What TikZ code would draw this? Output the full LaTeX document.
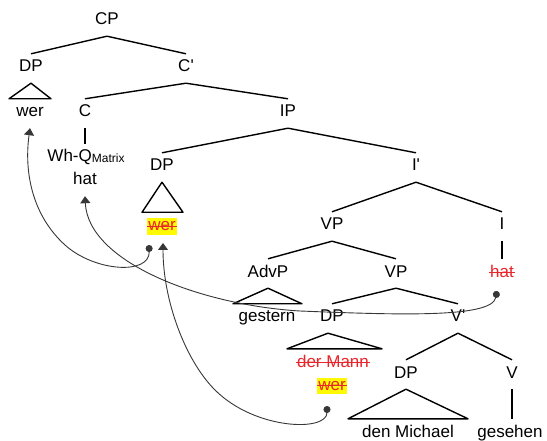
\documentclass[tikz,border=0pt]{standalone}
\usepackage{fontspec}
\setmainfont{Liberation Sans}
\usetikzlibrary{arrows.meta,calc}
\definecolor{tracered}{RGB}{232,38,44}
\definecolor{hilite}{RGB}{255,250,0}
\definecolor{linkgray}{RGB}{55,55,55}
\newcommand{\prm}{\textquotesingle}
\begin{document}
\begin{tikzpicture}[x=1pt,y=-1pt,
  lbl/.style={anchor=base, font=\fontsize{17}{17}\selectfont,
    text height=12pt, text depth=5pt, inner ysep=6pt, inner xsep=1pt},
  trace/.style={lbl, text=tracered},
  hl/.style={anchor=base, font=\fontsize{17}{17}\selectfont, fill=hilite,
    text=tracered, text height=11pt, text depth=2.5pt, inner ysep=1.5pt, inner xsep=1.5pt},
  strike/.style={tracered, line width=0.9pt},
  edge/.style={line width=1.4pt, line join=round},
  link/.style={linkgray, line width=0.9pt,
    {Circle[length=7pt,width=7pt]}-{Triangle[width=10pt,length=7pt]}}]
\useasboundingbox (0,0) rectangle (547,441);

% labels
\node[lbl] (cp)   at (107,25)  {CP};
\node[lbl] (dpA)  at (31,72)   {DP};
\node[lbl] (cbar) at (186,72)  {C\prm};
\node[lbl] (werA) at (30,117)  {wer};
\node[lbl] (c)    at (85,117)  {C};
\node[lbl] (ip)   at (288,117) {IP};
\node[lbl] (whq)  at (86,162)  {Wh-Q{\fontsize{12}{12}\selectfont\raisebox{-1pt}{Matrix}}};
\node[lbl] (hatA) at (85,185)  {hat};
\node[lbl] (dpB)  at (162,171) {DP};
\node[lbl] (ibar) at (416,171) {I\prm};
\node[hl]  (werB) at (162,231) {wer};
\node[lbl] (vpA)  at (332,230) {VP};
\node[lbl] (i)    at (502,230) {I};
\node[lbl] (advp) at (268,277) {AdvP};
\node[lbl] (vpB)  at (396,277) {VP};
\node[trace] (hatB) at (502,277) {hat};
\node[lbl] (gestern) at (267,322) {gestern};
\node[lbl] (dpC)  at (332,322) {DP};
\node[lbl] (vbar) at (458,322) {V\prm};
\node[trace] (dermann) at (333,367) {der Mann};
\node[hl]  (werC) at (332,390) {wer};
\node[lbl] (dpD)  at (406,378) {DP};
\node[lbl] (v)    at (512,378) {V};
\node[lbl] (michael) at (408,437) {den Michael};
\node[lbl] (gesehen) at (510,437) {gesehen};

% strike-through on the traces
\foreach \n in {werB,hatB,dermann,werC}
  \draw[strike] ($(\n.base west)+(0.5,-5)$) -- ($(\n.base east)+(-0.5,-5)$);

% branches
\draw[edge] (cp.south) -- (dpA.north);
\draw[edge] (cp.south) -- (cbar.north);
\draw[edge] (cbar.south) -- (c.north);
\draw[edge] (cbar.south) -- (ip.north);
\draw[edge] (c.south) -- (c.south |- whq.north);
\draw[edge] (ip.south) -- (dpB.north);
\draw[edge] (ip.south) -- (ibar.north);
\draw[edge] (ibar.south) -- (vpA.north);
\draw[edge] (ibar.south) -- (i.north);
\draw[edge] (i.south) -- (hatB.north);
\draw[edge] (vpA.south) -- (advp.north);
\draw[edge] (vpA.south) -- (vpB.north);
\draw[edge] (vpB.south) -- (dpC.north);
\draw[edge] (vpB.south) -- (vbar.north);
\draw[edge] (vbar.south) -- (dpD.north);
\draw[edge] (vbar.south) -- (v.north);
\draw[edge] (v.south) -- (gesehen.north -| v.south);

% triangles over phrases
\draw[edge] (dpA.south) -- ($(werA.north)+(-21,0)$) -- ($(werA.north)+(21,0)$) -- cycle;
\draw[edge] (dpB.south) -- ($(werB.north)+(-20,-6)$) -- ($(werB.north)+(21,-6)$) -- cycle;
\draw[edge] (advp.south) -- ($(gestern.north)+(-34,0)$) -- ($(gestern.north)+(35,0)$) -- cycle;
\draw[edge] ($(dpC.south)+(-4,0)$) -- ($(dermann.north)+(-46,0)$) -- ($(dermann.north)+(49,0)$) -- cycle;
\draw[edge] (dpD.south) -- ($(michael.north)+(-60,0)$) -- ($(michael.north)+(60,0)$) -- cycle;

% movement links: trace dots and landing points
\coordinate (t1) at (149,245);
\coordinate (t2) at (497,291);
\coordinate (t3) at (327,406);
\coordinate (l3) at (163,243);

\draw[link] (t1) .. controls (150,275) and (95,272) .. (65,245)
  .. controls (32,215) and (24,172) .. (werA.south);
\draw[link] (t2) .. controls (492,318) and (400,315) .. (300,311)
  .. controls (200,305) and (88,262) .. (hatA.south);
\draw[link] (t3) .. controls (327,432) and (255,430) .. (215,390)
  .. controls (185,360) and (163,300) .. (l3);
\end{tikzpicture}
\end{document}
